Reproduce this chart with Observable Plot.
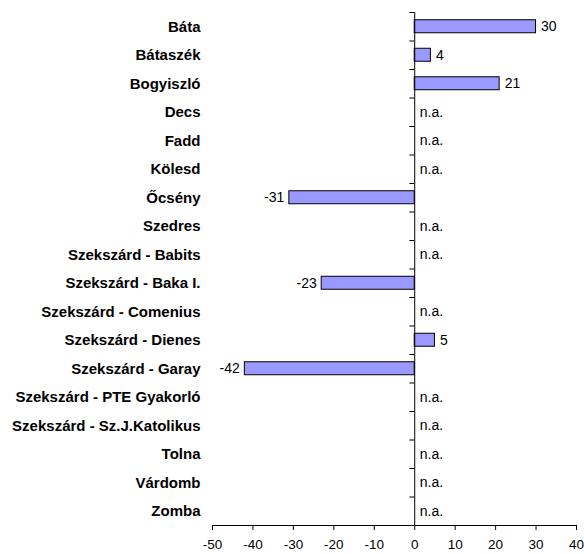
<!DOCTYPE html>
<html><head><meta charset="utf-8">
<script src="https://cdn.jsdelivr.net/npm/d3@7"></script>
<script src="https://cdn.jsdelivr.net/npm/@observablehq/plot@0.6"></script>
<style>body{margin:0;background:#fff}</style>
</head><body><div id="chart"></div>
<script>
const categories = ["Báta","Bátaszék","Bogyiszló","Decs","Fadd","Kölesd","Őcsény","Szedres","Szekszárd - Babits","Szekszárd - Baka I.","Szekszárd - Comenius","Szekszárd - Dienes","Szekszárd - Garay","Szekszárd - PTE Gyakorló","Szekszárd - Sz.J.Katolikus","Tolna","Várdomb","Zomba"];
const values = [30,4,21,null,null,null,-31,null,null,-23,null,5,-42,null,null,null,null,null];
const xTicks = [-50,-40,-30,-20,-10,0,10,20,30,40];
const naLabel = "n.a.";

const data = categories.map((c,i)=>({category:c, value:values[i]}));
const W=584, H=554, mL=212, mR=8, mT=12, mB=29;
const step = (H-mT-mB)/categories.length;

const plot = Plot.plot({
  width:W, height:H, marginLeft:mL, marginRight:mR, marginTop:mT, marginBottom:mB,
  style:{fontFamily:"'Liberation Sans', Arial, sans-serif", fontSize:"13.5px", color:"#000", background:"#fff", overflow:"visible"},
  x:{domain:[-50,40], ticks:xTicks, tickSize:5, tickPadding:9, tickFormat:d=>String(d), label:null},
  y:{domain:categories, padding:0, round:false, axis:null, label:null},
  marks:[
    Plot.barX(data.filter(d=>d.value!=null), {x:"value", y:"category", fill:"#9999FF", stroke:"#000", strokeWidth:1, insetTop:7.75, insetBottom:7.75}),
    Plot.ruleX([0], {stroke:"#000"}),
    Plot.ruleY(categories, {y:d=>d, x1:0, x2:-1.2, dy:-step/2, stroke:"#000"}),
    Plot.frame({anchor:"bottom", stroke:"#000"}),
    Plot.text(data, {y:"category", text:"category", frameAnchor:"left", textAnchor:"end", dx:-12, fontWeight:"bold", fontSize:15, fill:"#000"}),
    Plot.text(data.filter(d=>d.value!=null && d.value>=0), {x:"value", y:"category", text:d=>String(d.value), textAnchor:"start", dx:5, fontSize:14, fill:"#000"}),
    Plot.text(data.filter(d=>d.value!=null && d.value<0), {x:"value", y:"category", text:d=>String(d.value), textAnchor:"end", dx:-5, fontSize:14, fill:"#000"}),
    Plot.text(data.filter(d=>d.value==null), {x:()=>0, y:"category", text:()=>naLabel, textAnchor:"start", dx:5, fontSize:14, fill:"#000"})
  ]
});
document.getElementById("chart").appendChild(plot);
</script>
</body></html>
